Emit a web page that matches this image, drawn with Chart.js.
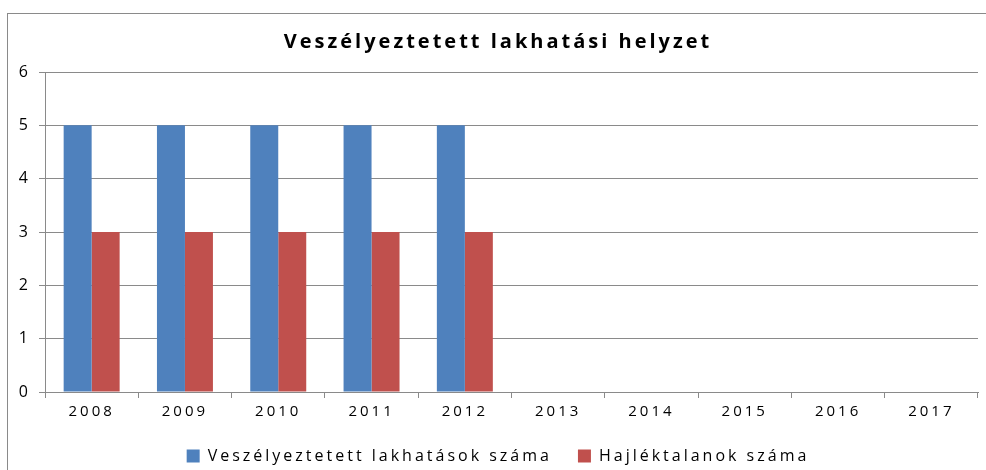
<!DOCTYPE html>
<html>
<head>
<meta charset="utf-8">
<script src="https://cdn.jsdelivr.net/npm/chart.js@4"></script>
<style>
  html, body { margin: 0; padding: 0; background: #fff; }
  #frame { position: absolute; left: 7px; top: 13px; width: 1000px; height: 480px; border: 1px solid #8a8a8a; }
  #wrap { position: absolute; left: 0; top: 0; width: 986px; height: 470px; }
</style>
</head>
<body>
<div id="frame"></div>
<div id="wrap"><canvas id="barCanvas"></canvas></div>
<script>
const years = ['2008','2009','2010','2011','2012','2013','2014','2015','2016','2017'];
const veszelyeztetett = [5, 5, 5, 5, 5, null, null, null, null, null];
const hajlektalanok = [3, 3, 3, 3, 3, null, null, null, null, null];
const yTicks = [0, 1, 2, 3, 4, 5, 6];

// the reference text is drawn with wide letter spacing
const spacing = {
    id: 'spacing',
    beforeUpdate(chart) { chart.ctx.letterSpacing = '3px'; },
    beforeDraw(chart) { chart.ctx.letterSpacing = '3px'; }
};

document.addEventListener("DOMContentLoaded", function(e) {
    const barCanvas = document.getElementById('barCanvas');
    Chart.defaults.font.family = '"Open Sans", sans-serif';
    Chart.defaults.color = '#000';
    new Chart(barCanvas, {
        type: 'bar',
        plugins: [spacing],
        data: {
            labels: years,
            datasets: [{
                label: 'Veszélyeztetett lakhatások száma',
                data: veszelyeztetett,
                backgroundColor: '#4f81bd'
            }, {
                label: 'Hajléktalanok száma',
                data: hajlektalanok,
                backgroundColor: '#c0504d'
            }]
        },
        options: {
            responsive: true,
            maintainAspectRatio: false,
            animation: false,
            datasets: { bar: { barPercentage: 1, categoryPercentage: 0.6 } },
            layout: { padding: { left: 18, right: 8, top: 0, bottom: -4 } },
            scales: {
                x: {
                    grid: { display: true, drawOnChartArea: false, offset: true, tickLength: 6, color: '#8a8a8a' },
                    border: { color: '#8a8a8a' },
                    ticks: { font: { size: 15 }, padding: 5, maxRotation: 0 },
                    afterFit: function(s) { s.height = 30; }
                },
                y: {
                    min: 0, max: 6,
                    afterBuildTicks: function(s) { s.ticks = yTicks.map(v => ({ value: v })); },
                    grid: { color: '#8a8a8a', tickLength: 6 },
                    border: { color: '#8a8a8a' },
                    ticks: { font: { size: 16 }, padding: 8 },
                    afterFit: function(s) { s.width = 27; }
                }
            },
            plugins: {
                title: {
                    display: true,
                    text: 'Veszélyeztetett lakhatási helyzet',
                    font: { size: 20, weight: 'bold' },
                    padding: { top: 30, bottom: 18 }
                },
                legend: {
                    position: 'bottom',
                    labels: { boxWidth: 13, boxHeight: 13, padding: 26, font: { size: 16 } }
                },
                tooltip: { enabled: false }
            }
        }
    });
});
</script>
</body>
</html>
